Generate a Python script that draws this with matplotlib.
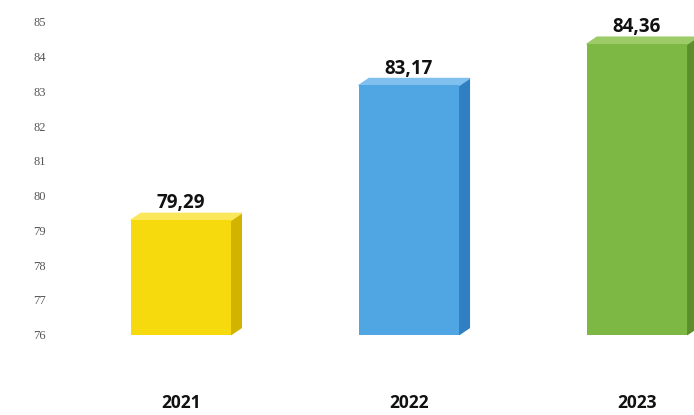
import matplotlib
matplotlib.use("Agg")
import matplotlib.pyplot as plt
from matplotlib.patches import Polygon

years = ["2021", "2022", "2023"]
values = [79.29, 83.17, 84.36]
value_labels = ["79,29", "83,17", "84,36"]
y_ticks = [76, 77, 78, 79, 80, 81, 82, 83, 84, 85]

front_colors = ["#F6DA0E", "#4FA6E3", "#7DB744"]
side_colors = ["#D2B400", "#2F7FC2", "#5C8E2C"]
top_colors = ["#FBE85A", "#7FC0EE", "#9CCB67"]

BASE = 76
WIDTH = 0.44
DX = 0.045
DY = 0.2

fig = plt.figure(figsize=(6.94, 4.15), dpi=100)
ax = fig.add_axes([60 / 694, 1 - 352 / 415, 634 / 694, 351 / 415])

xs = list(range(len(years)))
ax.bar(xs, [v - BASE for v in values], bottom=BASE, width=WIDTH,
       color=front_colors, zorder=3)

# fake 3d: side and top faces
for x, v, sc, tc in zip(xs, values, side_colors, top_colors):
    r = x + WIDTH / 2
    l = x - WIDTH / 2
    ax.add_patch(Polygon([(r, BASE), (r + DX, BASE + DY), (r + DX, v + DY), (r, v)],
                         closed=True, color=sc, zorder=2))
    ax.add_patch(Polygon([(l, v), (l + DX, v + DY), (r + DX, v + DY), (r, v)],
                         closed=True, color=tc, zorder=2))

for x, v, lab in zip(xs, values, value_labels):
    ax.annotate(lab, (x, v), xytext=(0, 5), textcoords="offset points",
                ha="center", va="bottom", fontsize=13.5, fontweight="bold",
                family="Open Sans", color="#111111")

ax.set_xlim(-0.53, 2.25)
ax.set_ylim(75.5, 85.6)
ax.set_yticks(y_ticks)
ax.set_yticklabels([str(t) for t in y_ticks], family="Liberation Serif",
                   fontsize=9, color="#555555")
ax.set_xticks(xs)
ax.set_xticklabels(years, fontsize=12.5, fontweight="bold", family="Open Sans",
                   color="#111111")
ax.tick_params(axis="y", length=0, pad=10)
ax.tick_params(axis="x", length=0, pad=30)
for s in ax.spines.values():
    s.set_visible(False)

fig.savefig("out.png", dpi=100)
